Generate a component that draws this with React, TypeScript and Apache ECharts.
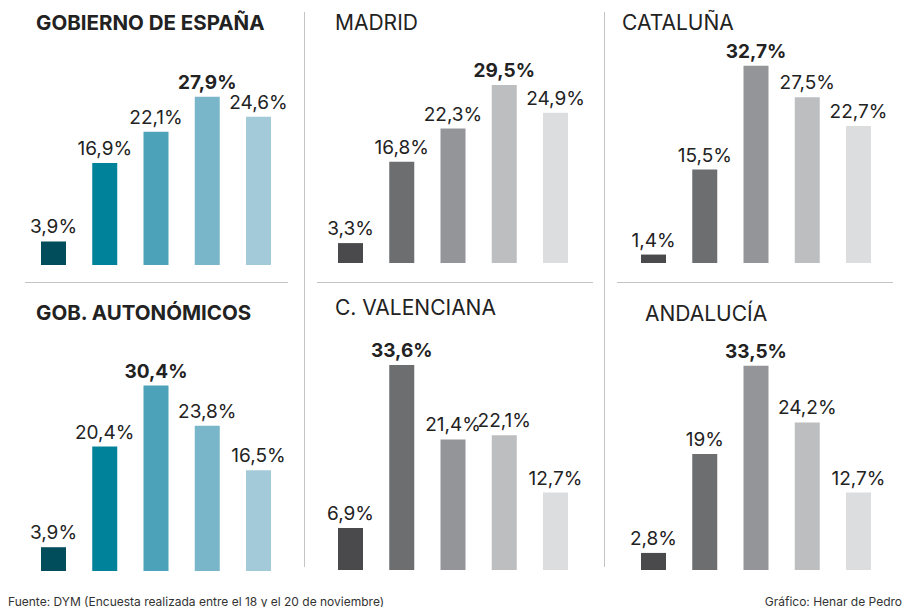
import React, { useEffect, useRef } from "react";
import * as echarts from "echarts";

const categories = ["1", "2", "3", "4", "5"];
const panelTitles = ["GOBIERNO DE ESPAÑA", "MADRID", "CATALUÑA", "GOB. AUTONÓMICOS", "C. VALENCIANA", "ANDALUCÍA"];
const gobiernoEspana = [3.9, 16.9, 22.1, 27.9, 24.6];
const madrid = [3.3, 16.8, 22.3, 29.5, 24.9];
const cataluna = [1.4, 15.5, 32.7, 27.5, 22.7];
const gobAutonomicos = [3.9, 20.4, 30.4, 23.8, 16.5];
const cValenciana = [6.9, 33.6, 21.4, 22.1, 12.7];
const andalucia = [2.8, 19.0, 33.5, 24.2, 12.7];
const panelValues = [gobiernoEspana, madrid, cataluna, gobAutonomicos, cValenciana, andalucia];
const tealColors = ["#024d5c", "#00829a", "#4ca2b8", "#79b6c9", "#a3cad8"];
const greyColors = ["#4a4a4c", "#6d6e70", "#939598", "#bcbec0", "#dcdddf"];
const sourceText = "Fuente: DYM (Encuesta realizada entre el 18 y el 20 de noviembre)";
const creditText = "Gráfico: Henar de Pedro";

const FONT = "Inter, 'Noto Sans', sans-serif";

export default function App() {
  const ref = useRef<HTMLDivElement>(null);
  useEffect(() => {
    if (!ref.current) return;
    const chart = echarts.init(ref.current, null, { renderer: "svg" });
    const firstCenters = [53.5, 350.5, 653.5];
    const step = 51.25;
    const baselines = [265, 263, 263, 571, 570, 570];
    const pxPer = [6.03, 6.03, 6.03, 6.1, 6.1, 6.1];
    const yMax = 35;
    const grids: any[] = [];
    const xAxes: any[] = [];
    const yAxes: any[] = [];
    const series: any[] = [];
    panelValues.forEach((vals, p) => {
      const col = p % 3;
      const h = yMax * pxPer[p];
      grids.push({
        left: firstCenters[col] - step / 2,
        width: step * 5,
        top: baselines[p] - h,
        height: h,
        containLabel: false,
      });
      xAxes.push({
        type: "category",
        gridIndex: p,
        data: categories,
        axisLine: { show: false },
        axisTick: { show: false },
        axisLabel: { show: false },
        splitLine: { show: false },
      });
      yAxes.push({
        type: "value",
        gridIndex: p,
        min: 0,
        max: yMax,
        show: false,
        splitLine: { show: false },
      });
      const colors = col === 0 ? tealColors : greyColors;
      const mx = Math.max(...vals);
      series.push({
        type: "bar",
        xAxisIndex: p,
        yAxisIndex: p,
        barWidth: 25,
        data: vals.map((v, i) => ({
          value: v,
          itemStyle: { color: colors[i] },
          label: { fontWeight: v === mx ? "bold" : "normal" },
        })),
        label: {
          show: true,
          position: "top",
          distance: 5,
          fontFamily: FONT,
          fontSize: 19,
          color: "#222",
          formatter: (d: any) => String(d.value).replace(".", ",") + "%",
        },
      });
    });

    const titlePos = [
      [36, 22, true],
      [335, 22, false],
      [622, 22, false],
      [36, 312, true],
      [335, 307, false],
      [645, 313, false],
    ];
    const graphics: any[] = [];
    panelTitles.forEach((t, i) => {
      const [x, y, bold] = titlePos[i] as any;
      graphics.push({
        type: "text",
        x,
        y,
        style: {
          text: t,
          fontFamily: FONT,
          fontSize: bold ? 20.5 : 21,
          fontWeight: bold ? "bold" : "normal",
          fill: "#222",
          textVerticalAlign: "middle",
        },
      });
    });
    const lineStyle = { stroke: "#c4c4c4", lineWidth: 1 };
    [[304.5, 12, 304.5, 567], [604.5, 12, 604.5, 567]].forEach(([x1, y1, x2, y2]) =>
      graphics.push({ type: "line", shape: { x1, y1, x2, y2 }, style: lineStyle })
    );
    [[25, 288], [317, 593], [617, 893]].forEach(([x1, x2]) =>
      graphics.push({ type: "line", shape: { x1, y1: 282.5, x2, y2: 282.5 }, style: lineStyle })
    );
    graphics.push({
      type: "text",
      x: 8,
      y: 601,
      style: { text: sourceText, fontFamily: FONT, fontSize: 12, fill: "#333", textVerticalAlign: "middle" },
    });
    graphics.push({
      type: "text",
      x: 902,
      y: 601,
      style: { text: creditText, fontFamily: FONT, fontSize: 12, fill: "#333", textAlign: "right", textVerticalAlign: "middle" },
    });

    chart.setOption({
      animation: false,
      backgroundColor: "#ffffff",
      grid: grids,
      xAxis: xAxes,
      yAxis: yAxes,
      series,
      graphic: graphics,
    });
    return () => chart.dispose();
  }, []);
  return <div ref={ref} style={{ position: "fixed", left: 0, top: 0, width: 903, height: 607 }} />;
}
